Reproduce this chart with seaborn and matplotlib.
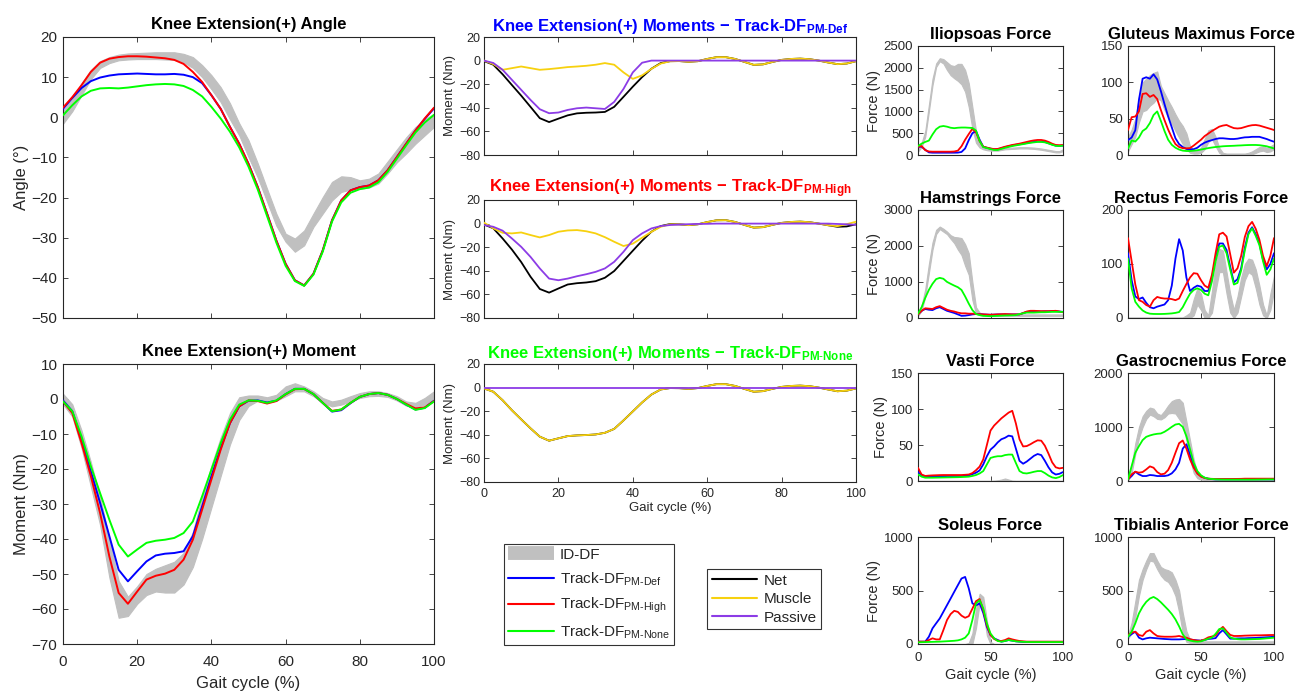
import numpy as np
import matplotlib
matplotlib.use('Agg')
import matplotlib.pyplot as plt
from matplotlib.lines import Line2D
import seaborn as sns

sns.set_style('ticks')
plt.rcParams['font.family'] = ['Liberation Sans', 'DejaVu Sans']
plt.rcParams['mathtext.fontset'] = 'custom'
plt.rcParams['mathtext.rm'] = 'Liberation Sans'
plt.rcParams['mathtext.bf'] = 'Liberation Sans:bold'
plt.rcParams['mathtext.it'] = 'Liberation Sans:italic'
plt.rcParams['mathtext.default'] = 'regular'

# gait cycle sample points (%)
gait = np.linspace(0, 100, 41)

# ---- knee angle (deg)
ang_idd_lo = [-1.6, 1.5, 5.5, 9.5, 12.3, 13.5, 14.2, 14.4, 14.5, 14.5, 14.5, 14.4, 14.3, 13.7, 12.3, 10.0, 7.0, 3.8, -0.5, -4.5,
              -9.9, -15.0, -21.0, -27.0, -31.0, -33.5, -31.9, -27.3, -24.0, -20.7, -18.6, -18.0, -17.8, -17.5, -16.5, -14.0,
              -11.2, -9.0, -6.6, -4.5, -2.4]
ang_idd_hi = [1.7, 4.5, 8.5, 11.8, 14.0, 15.0, 15.6, 15.9, 16.0, 16.1, 16.2, 16.2, 16.2, 15.8, 15.0, 13.0, 10.5, 7.5, 3.5, -1.5,
              -5.7, -11.5, -17.8, -24.0, -29.0, -30.2, -28.2, -24.0, -19.9, -16.1, -14.7, -14.9, -15.7, -15.3, -14.0, -11.0,
              -8.0, -5.0, -2.4, -0.5, 0.9]
ang_def = [2.1, 4.8, 7.3, 9.0, 9.9, 10.4, 10.7, 10.8, 10.9, 10.8, 10.7, 10.7, 10.8, 10.6, 10.0, 8.5, 5.5, 2.1, -2.4, -6.6,
           -11.6, -17.4, -24.0, -30.7, -36.5, -40.6, -41.9, -39.0, -33.2, -25.7, -20.7, -18.2, -17.4, -17.0, -15.7, -13.2,
           -9.9, -6.6, -3.3, -0.4, 2.2]
ang_high = [2.4, 5.0, 8.0, 11.3, 13.6, 14.6, 15.0, 15.2, 15.2, 15.1, 14.9, 14.7, 14.3, 13.3, 11.3, 8.8, 5.5, 2.1, -2.4, -6.6,
            -11.6, -17.4, -24.0, -30.7, -36.5, -40.6, -41.9, -39.0, -33.2, -25.7, -20.7, -18.2, -17.4, -17.0, -15.7, -13.2,
            -9.9, -6.6, -3.3, -0.3, 2.4]
ang_none = [0.5, 3.0, 5.2, 6.6, 7.2, 7.3, 7.2, 7.4, 7.7, 8.0, 8.2, 8.3, 8.2, 7.8, 6.8, 5.2, 2.6, -0.3, -3.6, -7.5,
            -12.3, -18.0, -24.6, -31.2, -37.0, -40.8, -42.0, -39.2, -33.5, -26.0, -21.2, -18.8, -17.9, -17.5, -16.2, -13.6,
            -10.3, -7.0, -3.8, -1.3, 0.6]

# ---- knee moment (Nm)
mom_idd_lo = [-1.5, -5.0, -14.0, -25.0, -36.0, -51.0, -62.5, -62.0, -58.5, -56.0, -55.0, -55.3, -55.3, -53.0, -48.0, -40.0,
              -31.0, -22.0, -13.0, -6.0, -2.0, -0.5, -0.5, -0.5, 0.8, 2.2, 2.2, 0.8, -1.1, -2.1, -1.6, -0.7, 0.3, 0.8, 0.9,
              0.6, -0.4, -1.9, -2.3, -1.6, -0.2]
mom_idd_hi = [1.5, -1.5, -9.0, -18.0, -28.0, -40.0, -52.0, -56.5, -53.5, -50.0, -48.5, -47.5, -46.5, -44.0, -38.0, -28.0,
              -19.0, -11.0, -4.0, 0.5, 1.0, 1.0, 0.5, 1.2, 3.6, 4.5, 3.6, 2.2, 0.3, -0.7, -0.2, 0.8, 1.7, 2.2, 2.2, 1.7,
              0.8, -0.7, -1.1, 0.3, 2.2]
mom_def = [-0.4, -3.5, -11.6, -20.7, -29.7, -39.2, -48.8, -52.1, -49.2, -46.4, -44.7, -44.2, -44.0, -43.5, -39.2, -30.7,
           -22.1, -14.0, -6.9, -2.1, -0.5, -0.4, -1.0, -0.5, 1.4, 2.9, 2.9, 1.4, -1.1, -3.6, -3.2, -1.2, 0.6, 1.4, 1.7, 1.2,
           0.0, -1.6, -3.0, -2.5, -0.5]
mom_high = [-0.7, -4.0, -12.6, -22.0, -32.6, -45.0, -55.4, -58.5, -55.0, -51.6, -50.5, -49.9, -48.8, -45.9, -40.2, -31.6,
            -23.0, -14.5, -6.9, -2.1, -0.4, -0.6, -1.3, -0.6, 1.3, 2.8, 2.9, 1.4, -1.1, -3.4, -3.0, -1.1, 0.6, 1.4, 1.7, 1.2,
            0.0, -1.4, -2.7, -2.4, -0.6]
mom_none = [-0.7, -3.5, -10.7, -19.2, -26.9, -34.5, -41.6, -45.0, -43.0, -41.1, -40.5, -40.2, -39.7, -38.3, -35.0, -27.8,
            -20.2, -12.6, -5.9, -1.6, -0.4, -0.5, -1.1, -0.4, 1.4, 2.9, 2.9, 1.4, -1.1, -3.5, -3.0, -1.1, 0.6, 1.4, 1.7, 1.2,
            0.0, -1.6, -3.1, -2.6, -0.7]

# ---- moment split: muscle / passive
mus_def = [0.0, -3.0, -7.8, -6.4, -5.0, -6.4, -7.8, -7.2, -6.4, -5.5, -5.0, -4.4, -3.5, -2.1, -3.5, -10.0, -15.5, -12.5,
           -7.0, -2.5, -0.6, -0.4, -1.0, -0.5, 1.4, 2.9, 2.9, 1.4, -1.1, -3.6, -3.2, -1.2, 0.6, 1.4, 1.7, 1.2, 0.0, -1.6,
           -3.0, -2.5, -0.5]
pas_def = [0.0, -2.0, -7.8, -16.3, -24.8, -33.3, -41.2, -44.6, -44.0, -41.8, -40.4, -39.8, -40.4, -41.0, -35.0, -24.0,
           -10.0, -1.8, 0.0, 0.0, 0.0, 0.0, 0.0, 0.0, 0.0, 0.0, 0.0, 0.0, 0.0, 0.0, 0.0, 0.0, 0.0, 0.0, 0.0, 0.0, 0.0, 0.0,
           0.0, 0.0, 0.0]
mus_high = [0.8, -4.0, -7.8, -8.3, -7.5, -9.7, -11.7, -9.7, -6.9, -5.8, -5.5, -6.5, -8.3, -11.5, -15.4, -19.0, -17.0,
            -12.0, -7.0, -2.7, -0.6, -0.6, -1.3, -0.6, 1.3, 2.8, 2.9, 1.4, -1.1, -3.4, -3.0, -1.1, 0.6, 1.4, 1.7, 1.2, 0.0,
            -1.4, -2.2, -0.5, 1.6]
pas_high = [-1.2, -2.7, -6.0, -12.6, -19.7, -28.2, -38.0, -46.6, -48.0, -46.6, -44.6, -42.9, -40.9, -38.0, -32.4, -23.9,
            -14.0, -8.3, -4.1, -2.1, -1.2, -0.8, -0.5, -0.3, -0.2, 0.0, 0.0, 0.0, 0.0, 0.0, 0.0, 0.0, 0.0, 0.0, 0.0, 0.0,
            0.0, 0.0, -0.3, -0.6, -1.0]
mus_none = mom_none
pas_none = [0.0, 0.0, 0.0, 0.0, 0.0, 0.0, 0.0, 0.0, 0.0, 0.0, 0.0, 0.0, 0.0, 0.0, 0.0, 0.0, 0.0, 0.0, 0.0, 0.0, 0.0,
            0.0, 0.0, 0.0, 0.0, 0.0, 0.0, 0.0, 0.0, 0.0, 0.0, 0.0, 0.0, 0.0, 0.0, 0.0, 0.0, 0.0, 0.0, 0.0, 0.0]

# ---- muscle forces (N)
ilio_idd_lo = [80, 180, 420, 1000, 1600, 2020, 2150, 2100, 1950, 1830, 1760, 1700, 1620, 1450, 1100, 600, 280, 170, 130,
               110, 100, 100, 100, 115, 130, 135, 140, 145, 150, 150, 150, 145, 140, 130, 120, 105, 90, 75, 60, 60, 90]
ilio_idd_hi = [180, 280, 550, 1150, 1750, 2100, 2220, 2200, 2130, 2060, 2040, 2090, 2090, 1950, 1650, 1100, 550, 260, 180,
               140, 130, 130, 130, 145, 160, 165, 170, 175, 180, 180, 180, 175, 170, 160, 150, 135, 120, 105, 90, 90, 130]
ilio_def = [190, 190, 120, 60, 53, 53, 53, 53, 53, 53, 53, 55, 70, 150, 340, 500, 550, 350, 190, 165, 145, 130, 130, 155,
            180, 200, 220, 235, 245, 260, 275, 290, 300, 310, 310, 300, 270, 240, 215, 210, 215]
ilio_high = [190, 205, 110, 80, 76, 76, 76, 76, 76, 76, 80, 100, 200, 350, 480, 600, 520, 320, 190, 170, 150, 135, 140, 165,
             190, 210, 230, 245, 260, 280, 300, 320, 335, 345, 345, 330, 300, 260, 230, 225, 230]
ilio_none = [205, 260, 300, 330, 470, 590, 650, 665, 650, 625, 615, 625, 630, 630, 625, 620, 560, 320, 180, 160, 135, 115,
             115, 140, 165, 185, 205, 220, 235, 250, 265, 280, 290, 300, 300, 290, 265, 235, 210, 205, 215]

glut_idd_lo = [5, 15, 25, 45, 60, 62, 68, 72, 78, 75, 62, 52, 43, 33, 24, 15, 8, 3, 2, 2, 3, 8, 18, 22, 12, 3, 0, 0, 0, 0,
               0, 0, 0, 0, 1, 3, 5, 6, 4, 5, 8]
glut_idd_hi = [25, 35, 50, 80, 100, 105, 110, 113, 115, 95, 85, 75, 66, 56, 47, 40, 30, 12, 7, 6, 10, 22, 34, 36, 25, 10,
               3, 2, 2, 2, 2, 2, 2, 3, 5, 8, 11, 12, 10, 12, 15]
glut_def = [20.6, 24, 34, 76, 105, 107, 105, 111, 104, 88, 70, 53, 38, 23, 15, 11, 8.3, 7.8, 8, 10, 14, 17, 19, 20.5, 22,
            23, 23, 22.5, 22, 22, 22.5, 23.5, 24.3, 24.5, 25, 25, 25, 23.5, 22, 20, 18.3]
glut_high = [34.4, 52, 53, 60, 84, 85, 80, 82.6, 77, 62, 48, 35, 24, 15, 11, 9.4, 9.2, 9.5, 13, 17, 21, 26, 29.5, 33, 36,
             39, 40.5, 41.3, 39, 37, 36.5, 37, 38.5, 40, 41, 41.3, 40.5, 39, 37.5, 36, 34.4]
glut_none = [9, 20, 18.5, 24, 33, 36.5, 44, 55, 60, 47, 33, 21, 14, 10, 7.5, 6, 5.5, 5.5, 6, 6.5, 7.5, 8.5, 9.5, 10.3, 11,
             11.5, 12, 12.3, 12.5, 12.7, 13, 13.2, 13.5, 13.7, 13.8, 13.8, 13.5, 12.8, 12, 10.5, 9]

ham_idd_lo = [60, 200, 600, 1250, 1900, 2330, 2470, 2400, 2330, 2200, 2080, 1900, 1750, 1450, 1200, 500, 120, 80, 70, 65,
              60, 60, 60, 60, 60, 60, 60, 60, 60, 60, 60, 60, 60, 60, 60, 60, 60, 60, 60, 60, 60]
ham_idd_hi = [150, 350, 800, 1500, 2100, 2450, 2540, 2480, 2400, 2300, 2250, 2240, 2220, 2050, 1800, 1000, 300, 150, 110,
              100, 100, 100, 100, 100, 100, 100, 100, 100, 100, 100, 100, 100, 100, 100, 100, 100, 100, 100, 100, 100, 100]
ham_def = [100, 200, 250, 230, 220, 270, 300, 250, 200, 170, 140, 100, 60, 65, 80, 100, 110, 105, 100, 95, 90, 95, 100, 100,
           100, 100, 100, 100, 100, 135, 170, 175, 180, 180, 180, 185, 185, 190, 190, 180, 170]
ham_high = [100, 200, 270, 260, 250, 300, 330, 280, 230, 200, 180, 150, 130, 130, 120, 120, 110, 105, 100, 95, 90, 95, 100,
            105, 110, 105, 100, 100, 100, 140, 180, 200, 200, 195, 190, 190, 190, 195, 200, 180, 160]
ham_none = [120, 300, 560, 780, 950, 1080, 1115, 1090, 1003, 950, 900, 855, 780, 600, 400, 220, 110, 80, 60, 55, 50, 55, 60,
            65, 70, 72, 75, 80, 110, 130, 150, 150, 150, 155, 160, 160, 165, 170, 170, 170, 170]

rf_idd_lo = [0, 0, 0, 0, 0, 0, 0, 0, 0, 0, 0, 0, 0, 0, 0, 0, 0, 0, 5, 25, 15, 0, 0, 10, 50, 85, 85, 45, 10, 0, 10, 40, 70,
             85, 80, 55, 25, 5, 0, 15, 50]
rf_idd_hi = [1, 1, 1, 1, 1, 1, 1, 1, 1, 1, 1, 1, 1, 1, 1, 1, 5, 10, 35, 55, 45, 15, 5, 50, 100, 128, 125, 85, 45, 15, 40,
             75, 100, 110, 108, 90, 60, 25, 5, 45, 78]
rf_def = [120, 70, 40, 35, 38, 28, 20, 18, 21, 23, 25, 33, 60, 110, 146, 125, 75, 50, 56, 60, 58, 50, 50, 75, 110, 138,
          138, 126, 95, 66, 72, 92, 130, 158, 168, 155, 138, 108, 90, 100, 120]
rf_high = [148, 105, 62, 33, 30, 24, 21, 33, 39, 37, 36, 36, 35, 33, 36, 50, 63, 75, 83, 82, 70, 60, 56, 80, 120, 155,
           158, 151, 118, 84, 92, 115, 150, 170, 178, 165, 145, 115, 96, 115, 148]
rf_none = [110, 55, 30, 21, 14, 10, 8, 7.5, 7.4, 7.4, 7.6, 8, 8.5, 9.5, 11, 20, 33, 45, 52, 55, 52, 45, 42, 68, 105, 132,
           134, 120, 90, 62, 65, 88, 125, 155, 166, 152, 135, 105, 80, 90, 110]

vas_idd_lo = [0, 0, 0, 0, 0, 0, 0, 0, 0, 0, 0, 0, 0, 0, 0, 0, 0, 0, 0, 0, 0, 0, 0, 0, 0, 0, 0, 0, 0, 0, 0, 0, 0, 0, 0,
              0, 0, 0, 0, 0, 0]
vas_idd_hi = [0.3, 0.3, 0.3, 0.3, 0.3, 0.3, 0.3, 0.3, 0.3, 0.3, 0.3, 0.3, 0.3, 0.3, 0.3, 0.3, 0.3, 0.3, 0.3, 0.3, 0.3,
              0.5, 1.0, 2.0, 3.5, 2.0, 0.5, 0.3, 0.3, 0.3, 0.3, 0.3, 0.3, 0.3, 0.3, 0.3, 0.3, 0.3, 0.3, 0.3, 0.3]
vas_def = [12.4, 8.3, 6, 6.2, 6.4, 6.5, 6.6, 6.7, 6.9, 6.9, 6.9, 6.9, 6.9, 7.3, 7.8, 9.5, 11.5, 14.7, 23, 34.4, 43.6, 48,
           53.7, 58, 60, 63, 62, 45, 28, 24, 27, 31, 35, 37.5, 36, 28, 19, 12, 9, 10, 12.4]
vas_high = [18.3, 9, 7, 7.5, 7.8, 8, 8.2, 8.3, 8.3, 8.3, 8.3, 8.3, 8.3, 8.6, 9, 11, 15, 20, 30, 50, 70, 77, 82, 87, 91, 95,
            97.5, 80, 58, 48, 48.5, 51, 54, 56.5, 56, 49, 38, 26, 19, 17.5, 18.3]
vas_none = [9.2, 6, 4.6, 4.6, 4.6, 4.7, 4.8, 4.9, 5, 5.1, 5.2, 5.3, 5.5, 5.7, 6, 7, 8.3, 10.5, 13.8, 23, 32, 33.5, 34.4,
            34.4, 36, 36.7, 36.7, 25, 13.8, 11, 10.5, 11.5, 12.8, 13.8, 13.8, 11, 7.5, 5, 4, 5.5, 8.3]

gas_idd_lo = [0, 150, 500, 800, 1000, 1150, 1230, 1200, 1150, 1140, 1180, 1250, 1260, 1250, 1150, 1050, 750, 400, 150, 50,
              25, 20, 15, 12, 10, 10, 10, 10, 10, 10, 10, 10, 10, 10, 10, 10, 10, 10, 10, 10, 10]
gas_idd_hi = [50, 300, 700, 1000, 1200, 1300, 1360, 1340, 1250, 1220, 1300, 1400, 1480, 1510, 1520, 1450, 1100, 750, 400,
              150, 70, 45, 40, 35, 30, 30, 30, 30, 30, 30, 30, 30, 30, 30, 30, 30, 30, 30, 30, 30, 30]
gas_def = [30, 92, 172, 123, 92, 92, 111, 105, 92, 92, 92, 105, 142, 215, 338, 600, 680, 480, 277, 154, 92, 60, 43, 35, 30,
           30, 30, 30, 30, 30, 30, 30, 30, 30, 30, 30, 30, 30, 30, 30, 30]
gas_high = [30, 123, 172, 154, 166, 215, 271, 246, 166, 123, 135, 203, 338, 523, 700, 750, 600, 400, 246, 135, 80, 55, 43,
            40, 37, 37, 37, 37, 37, 38, 39, 40, 43, 43, 43, 43, 43, 43, 43, 43, 43]
gas_none = [30, 277, 523, 646, 757, 818, 843, 862, 874, 880, 911, 954, 1003, 1046, 1058, 1003, 831, 585, 338, 185, 105, 62,
            43, 37, 31, 28, 26, 25, 25, 25, 25, 25, 25, 25, 25, 26, 27, 28, 29, 30, 30]

sol_idd_lo = [0, 0, 0, 0, 0, 0, 0, 0, 0, 0, 0, 0, 0, 0, 0, 0, 150, 380, 300, 80, 0, 0, 0, 0, 0, 0, 0, 0, 0, 0, 0, 0, 0,
              0, 0, 0, 0, 0, 0, 0, 0]
sol_idd_hi = [0, 0, 0, 0, 0, 0, 0, 0, 0, 0, 0, 0, 0, 0, 10, 100, 330, 470, 440, 220, 20, 0, 0, 0, 0, 0, 0, 0, 0, 0, 0, 0,
              0, 0, 0, 0, 0, 0, 0, 0, 0]
sol_def = [22, 22, 22, 68, 146, 193, 239, 301, 363, 425, 488, 550, 612, 627, 520, 380, 360, 380, 290, 160, 84, 53, 37, 22,
           28, 37, 31, 25, 22, 20, 20, 20, 20, 20, 20, 20, 20, 20, 20, 20, 20]
sol_high = [22, 22, 22, 37, 53, 43, 43, 130, 224, 280, 310, 300, 265, 245, 260, 330, 400, 420, 317, 177, 84, 47, 31, 28,
            37, 53, 43, 35, 28, 25, 22, 22, 22, 22, 22, 22, 22, 22, 22, 22, 22]
sol_none = [16, 17, 18, 19, 20, 21, 22, 24, 26, 28, 30, 34, 43, 59, 99, 224, 379, 410, 332, 193, 99, 53, 28, 22, 28, 37,
            31, 25, 22, 20, 19, 18, 18, 18, 18, 18, 18, 18, 18, 18, 18]

ta_idd_lo = [50, 100, 250, 450, 600, 700, 780, 770, 700, 640, 600, 580, 530, 450, 300, 100, 20, 10, 10, 10, 10, 10, 10,
             10, 10, 10, 10, 10, 10, 10, 10, 10, 10, 10, 10, 10, 10, 10, 10, 10, 10]
ta_idd_hi = [80, 200, 400, 600, 700, 780, 850, 850, 780, 720, 700, 690, 670, 600, 500, 290, 120, 40, 25, 25, 25, 25, 25,
             25, 25, 25, 25, 25, 25, 25, 25, 25, 25, 25, 25, 25, 25, 25, 25, 25, 25]
ta_def = [68, 93, 115, 59, 43, 53, 59, 56, 53, 50, 47, 45, 43, 43, 43, 45, 47, 42, 37, 34, 31, 38, 47, 50, 55, 100, 130, 90,
          50, 50, 52, 53, 53, 55, 56, 57, 59, 61, 63, 65, 68]
ta_high = [84, 106, 115, 84, 75, 115, 130, 99, 75, 70, 68, 68, 68, 70, 75, 65, 59, 45, 37, 31, 31, 43, 62, 70, 80, 130, 160,
           120, 85, 75, 75, 76, 78, 79, 80, 81, 81, 82, 83, 84, 84]
ta_none = [68, 115, 193, 286, 348, 394, 425, 440, 420, 390, 355, 320, 280, 230, 165, 90, 43, 32, 25, 22, 25, 37, 50, 60, 95,
           140, 146, 105, 62, 50, 45, 43, 43, 44, 45, 46, 47, 50, 53, 56, 59]

BLUE, RED, GREEN = '#0000ff', '#ff0000', '#00ff00'
GRAY = '#c0c0c0'
NET, MUSCLE, PASSIVE = '#000000', '#f7d10f', '#8c3ce6'
AXC = '#262626'
W, H = 1309, 693

fig = plt.figure(figsize=(W / 100, H / 100), dpi=100)


def add_ax(l, t, r, b):
    return fig.add_axes([l / W, 1 - b / H, (r - l) / W, (b - t) / H])


def draw_band(ax, lo, hi):
    ax.fill_between(gait, lo, hi, color=GRAY, edgecolor=GRAY, linewidth=0.8, zorder=1)


def draw_lines(ax, series, lw=1.4):
    for vals, col in series:
        sns.lineplot(x=gait, y=vals, ax=ax, color=col, linewidth=lw, legend=False, zorder=3)


def style(ax, ylim, yticks, xticks, tick_fs, show_x=False, ylabel=None, label_fs=10,
          xpad=3, ypad=3, xlabelpad=2):
    ax.set_xlim(0, 100)
    ax.set_ylim(*ylim)
    ax.set_xticks(xticks)
    ax.set_yticks(yticks)
    ax.tick_params(direction='in', top=True, right=True, length=3.5, width=0.6,
                   color=AXC, labelcolor=AXC, labelsize=tick_fs)
    ax.tick_params(axis='x', pad=xpad)
    ax.tick_params(axis='y', pad=ypad)
    if show_x:
        ax.set_xlabel('Gait cycle (%)', fontsize=label_fs, color=AXC, labelpad=xlabelpad)
    else:
        ax.set_xticklabels([])
        ax.set_xlabel('')
    ax.set_ylabel(ylabel if ylabel else '', fontsize=label_fs, color=AXC, labelpad=2)
    for sp in ax.spines.values():
        sp.set_color(AXC)
        sp.set_linewidth(0.8)


def title(ax, text, color='black', pad=5):
    ax.set_title(text, fontsize=12, fontweight='bold', color=color, pad=pad)


# ---- left column
ax = add_ax(63, 37, 434, 318)
draw_band(ax, ang_idd_lo, ang_idd_hi)
draw_lines(ax, [(ang_def, BLUE), (ang_high, RED), (ang_none, GREEN)])
style(ax, (-50, 20), range(-50, 21, 10), range(0, 101, 20), 11, ylabel='Angle (°)', label_fs=12, ypad=4)
title(ax, 'Knee Extension(+) Angle', pad=6)

ax = add_ax(63, 364, 434, 644)
draw_band(ax, mom_idd_lo, mom_idd_hi)
draw_lines(ax, [(mom_def, BLUE), (mom_high, RED), (mom_none, GREEN)])
style(ax, (-70, 10), range(-70, 11, 10), range(0, 101, 20), 11, show_x=True, ylabel='Moment (Nm)', label_fs=12,
      xpad=8, ypad=4, xlabelpad=5)
title(ax, 'Knee Extension(+) Moment', pad=6)

# ---- middle column: net / muscle / passive
mid = [
    (37, 155, mom_def, mus_def, pas_def, BLUE, r'Knee Extension(+) Moments − Track-DF$_{\mathbf{PM\text{-}Def}}$'),
    (200, 318, mom_high, mus_high, pas_high, RED, r'Knee Extension(+) Moments − Track-DF$_{\mathbf{PM\text{-}High}}$'),
    (364, 482, mom_none, mus_none, pas_none, GREEN, r'Knee Extension(+) Moments − Track-DF$_{\mathbf{PM\text{-}None}}$'),
]
for i, (t, b, net, mus, pas, col, txt) in enumerate(mid):
    ax = add_ax(484, t, 856, b)
    draw_lines(ax, [(net, NET), (mus, MUSCLE), (pas, PASSIVE)], lw=1.3)
    style(ax, (-80, 20), range(-80, 21, 20), range(0, 101, 20), 9, show_x=(i == 2),
          ylabel='Moment (Nm)', label_fs=9.5, xpad=4, ypad=2.5, xlabelpad=2)
    title(ax, txt, color=col, pad=4)

# ---- right grid: muscle forces
forces = [
    ('Iliopsoas Force', ilio_idd_lo, ilio_idd_hi, ilio_def, ilio_high, ilio_none, (0, 2500), range(0, 2501, 500)),
    ('Gluteus Maximus Force', glut_idd_lo, glut_idd_hi, glut_def, glut_high, glut_none, (0, 150), range(0, 151, 50)),
    ('Hamstrings Force', ham_idd_lo, ham_idd_hi, ham_def, ham_high, ham_none, (0, 3000), range(0, 3001, 1000)),
    ('Rectus Femoris Force', rf_idd_lo, rf_idd_hi, rf_def, rf_high, rf_none, (0, 200), range(0, 201, 100)),
    ('Vasti Force', vas_idd_lo, vas_idd_hi, vas_def, vas_high, vas_none, (0, 150), range(0, 151, 50)),
    ('Gastrocnemius Force', gas_idd_lo, gas_idd_hi, gas_def, gas_high, gas_none, (0, 2000), range(0, 2001, 1000)),
    ('Soleus Force', sol_idd_lo, sol_idd_hi, sol_def, sol_high, sol_none, (0, 1000), range(0, 1001, 500)),
    ('Tibialis Anterior Force', ta_idd_lo, ta_idd_hi, ta_def, ta_high, ta_none, (0, 1000), range(0, 1001, 500)),
]
cols = [(918, 1063), (1128, 1274)]
rows = [(46, 155), (210, 318), (373, 481), (537, 644)]
for k, (name, lo, hi, d, h, n, ylim, yt) in enumerate(forces):
    r, c = divmod(k, 2)
    ax = add_ax(cols[c][0], rows[r][0], cols[c][1], rows[r][1])
    draw_band(ax, lo, hi)
    draw_lines(ax, [(d, BLUE), (h, RED), (n, GREEN)], lw=1.3)
    style(ax, ylim, yt, [0, 50, 100], 9.5, show_x=(r == 3),
          ylabel='Force (N)' if c == 0 else None, label_fs=10.5, xpad=5.5, ypad=3.5, xlabelpad=3)
    title(ax, name, pad=5)

# ---- legends
h1 = [Line2D([], [], color=GRAY, lw=10, solid_capstyle='butt'),
      Line2D([], [], color=BLUE, lw=1.5),
      Line2D([], [], color=RED, lw=1.5),
      Line2D([], [], color=GREEN, lw=1.5)]
l1 = ['ID-DF', r'Track-DF$_{PM\text{-}Def}$', r'Track-DF$_{PM\text{-}High}$', r'Track-DF$_{PM\text{-}None}$']
leg1 = fig.legend(h1, l1, loc='upper left', bbox_to_anchor=(504 / W, 1 - 544 / H), frameon=True, fancybox=False,
                  edgecolor='black', fontsize=11, handlelength=3.0, borderaxespad=0, borderpad=0.25,
                  labelspacing=0.55, handletextpad=0.4)
leg1.get_frame().set_linewidth(0.8)

h2 = [Line2D([], [], color=NET, lw=1.5), Line2D([], [], color=MUSCLE, lw=1.5), Line2D([], [], color=PASSIVE, lw=1.5)]
leg2 = fig.legend(h2, ['Net', 'Muscle', 'Passive'], loc='upper left', bbox_to_anchor=(707 / W, 1 - 569 / H),
                  frameon=True, fancybox=False, edgecolor='black', fontsize=11, handlelength=3.0,
                  borderaxespad=0, borderpad=0.3, labelspacing=0.3, handletextpad=0.4)
leg2.get_frame().set_linewidth(0.8)

fig.savefig('out.png', dpi=100)
